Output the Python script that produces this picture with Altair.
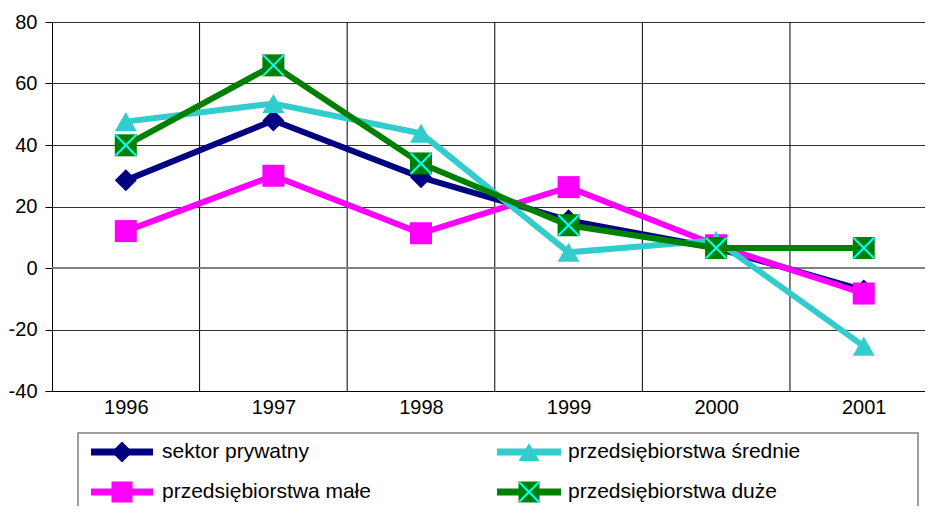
import altair as alt
import pandas as pd

years = [1996, 1997, 1998, 1999, 2000, 2001]
series_names = ["sektor prywatny", "przedsiębiorstwa małe",
                "przedsiębiorstwa średnie", "przedsiębiorstwa duże"]
prywatny = [28.5, 48.0, 29.5, 15.5, 6.5, -7.3]
male = [12.0, 30.0, 11.3, 26.3, 7.4, -8.3]
srednie = [47.6, 53.5, 43.8, 5.1, 9.0, -25.4]
duze = [39.9, 65.9, 34.0, 13.9, 6.5, 6.5]
y_ticks = [-40, -20, 0, 20, 40, 60, 80]

values = [prywatny, male, srednie, duze]
colors = ["#000080", "#FF00FF", "#33CCCC", "#008000"]
shapes = ["diamond", "square", "triangle-up", "square"]
FONT = "Liberation Sans"
XPATH = "M-1,-1L1,1M-1,1L1,-1"

W, H = 873, 369
xscale = alt.Scale(domain=[1995.5, 2001.415], nice=False, zero=False)
yscale = alt.Scale(domain=[-40, 80], nice=False, zero=False)

one = alt.Data(values=[{"k": 0}])

layers = []

# vertical gridlines at category boundaries
bounds = pd.DataFrame({"b": [y + 0.5 for y in years[:-1]]})
layers.append(
    alt.Chart(bounds).mark_rule(color="black", strokeWidth=1).encode(
        x=alt.X("b:Q", scale=xscale, axis=alt.Axis(
            values=years, format="d", ticks=False, grid=False, title=None,
            labelFontSize=20, labelPadding=6, labelColor="black",
            domainColor="black", labelFont=FONT, labelFlush=False)),
    )
)
# y axis with horizontal grid
layers.append(
    alt.Chart(one).mark_rule(opacity=0).encode(
        y=alt.Y("k:Q", scale=yscale, axis=alt.Axis(
            values=y_ticks, grid=True, gridColor="#333333", gridWidth=1,
            tickSize=7, tickColor="black", domainColor="black", title=None,
            labelExpr="'' + datum.value",
            labelFontSize=20, labelPadding=8, labelColor="black", labelFont=FONT)),
    )
)
# zero line
layers.append(
    alt.Chart(one).mark_rule(color="#808080", strokeWidth=2).encode(
        y=alt.Y("z:Q", scale=yscale),
    ).transform_calculate(z="0")
)

for i, name in enumerate(series_names):
    df = pd.DataFrame({"year": years, "v": values[i]})
    base = alt.Chart(df).encode(
        x=alt.X("year:Q", scale=xscale),
        y=alt.Y("v:Q", scale=yscale),
    )
    layers.append(base.mark_line(color=colors[i], strokeWidth=6))
    layers.append(base.mark_point(shape=shapes[i], filled=True, color=colors[i],
                                  size=484, opacity=1))
    if i == 3:
        layers.append(base.mark_point(shape=XPATH, filled=False, stroke="#00FFFF",
                                      strokeWidth=2, size=420, opacity=1))

# legend box
layers.append(
    alt.Chart(one).mark_rect(fillOpacity=0, stroke="#808080", strokeWidth=1.5).encode(
        x=alt.value(26), x2=alt.value(866), y=alt.value(411), y2=alt.value(520)
    )
)
col_x = [(39, 101, 110), (445, 509, 516)]
row_y = [430, 470]
for i, name in enumerate(series_names):
    c = i // 2
    r = i % 2
    x0, x1, tx = col_x[c]
    yy = row_y[r]
    layers.append(
        alt.Chart(one).mark_rule(color=colors[i], strokeWidth=7).encode(
            x=alt.value(x0), x2=alt.value(x1), y=alt.value(yy))
    )
    layers.append(
        alt.Chart(one).mark_point(shape=shapes[i], filled=True, color=colors[i],
                                  size=441, opacity=1).encode(
            x=alt.value((x0 + x1) / 2), y=alt.value(yy))
    )
    if i == 3:
        layers.append(
            alt.Chart(one).mark_point(shape=XPATH, filled=False, stroke="#00FFFF",
                                      strokeWidth=2, size=380, opacity=1).encode(
                x=alt.value((x0 + x1) / 2), y=alt.value(yy))
        )
    layers.append(
        alt.Chart(one).mark_text(align="left", baseline="middle", fontSize=21,
                                 font=FONT, color="black").encode(
            x=alt.value(tx), y=alt.value(yy), text=alt.value(name))
    )

chart = alt.layer(*layers).properties(
    width=W, height=H,
    autosize=alt.AutoSizeParams(type="none"),
    padding={"left": 44, "top": 14, "right": 0, "bottom": 115},
).configure_view(stroke=None).configure(font=FONT)

chart.save("out.html", embed_options={"renderer": "svg", "actions": False})
